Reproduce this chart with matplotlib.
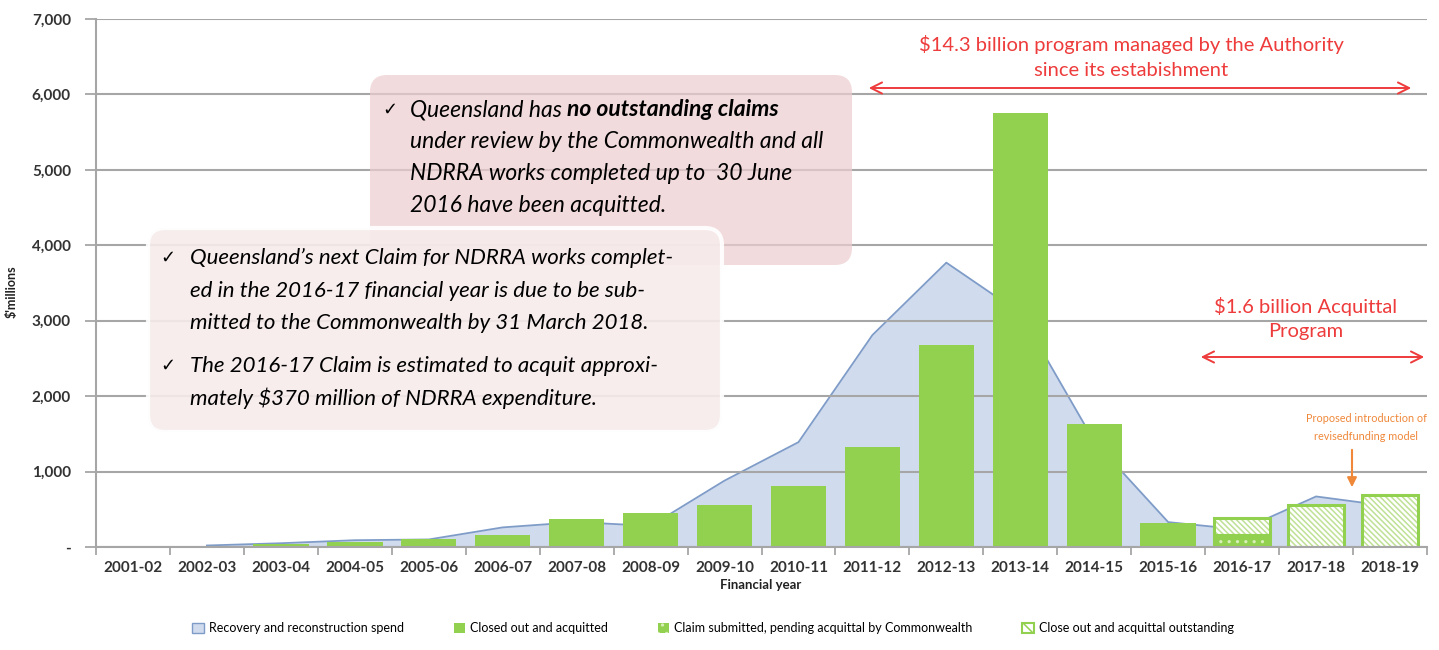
import numpy as np
import matplotlib.pyplot as plt
from matplotlib.patches import FancyBboxPatch, Patch

W, H = 1439, 650

years = ['2001-02', '2002-03', '2003-04', '2004-05', '2005-06', '2006-07',
         '2007-08', '2008-09', '2009-10', '2010-11', '2011-12', '2012-13',
         '2013-14', '2014-15', '2015-16', '2016-17', '2017-18', '2018-19']
# $ millions
spend = [np.nan, 20, 50, 90, 100, 260, 330, 280, 880, 1390, 2810, 3770,
         3100, 1400, 330, 230, 670, 540]
closed = [0, 0, 40, 70, 110, 165, 370, 450, 555, 810, 1330, 2680,
          5750, 1630, 315, 0, 0, 0]
pending = [0, 0, 0, 0, 0, 0, 0, 0, 0, 0, 0, 0, 0, 0, 0, 160, 0, 0]
outstanding = [0, 0, 0, 0, 0, 0, 0, 0, 0, 0, 0, 0, 0, 0, 0, 225, 560, 690]

GREEN = '#92D050'
FILL = '#D0DCEE'
LINE = '#7F9CC8'
GRID = '#A6A6A6'
RED = '#EE3B3B'
ORANGE = '#F0883A'
FONT = ['Lato', 'DejaVu Sans']

plt.rcParams['font.family'] = FONT
plt.rcParams['hatch.linewidth'] = 1.1


def fx(px):
    return px / W


def fy(py):
    return 1 - py / H


fig = plt.figure(figsize=(W / 100, H / 100), dpi=100)
ax = fig.add_axes([fx(96), fy(547), fx(1427) - fx(96), fy(19) - fy(547)])

x = np.arange(len(years))
ax.fill_between(x, spend, color=FILL, lw=0, zorder=0.3)
ax.plot(x, spend, color=LINE, lw=1.3, zorder=0.35)

bw = 0.75
ax.bar(x, closed, bw, color=GREEN, lw=0, zorder=2)

pend = np.array(pending, dtype=float)
outs = np.array(outstanding, dtype=float)
m = pend > 0
ax.bar(x[m], pend[m], bw, color=GREEN, hatch='..', edgecolor='#D8EFB8', lw=0, zorder=2)
m2 = outs > 0
ax.bar(x[m2], outs[m2], bw, bottom=pend[m2], color='white', hatch='\\\\\\\\\\\\',
       edgecolor='#BFE195', lw=0, zorder=2)
ax.bar(x[m2], outs[m2], bw, bottom=pend[m2], fill=False, edgecolor=GREEN, lw=2.2, zorder=2.1)
ax.bar(x[m], pend[m], bw, fill=False, edgecolor=GREEN, lw=2.2, zorder=2.1)

ax.set_xlim(-0.5, len(years) - 0.5)
ax.set_ylim(0, 7000)
ax.set_axisbelow(True)
ax.yaxis.grid(True, color=GRID, lw=1.5)

yt = np.arange(0, 7001, 1000)
ax.set_yticks(yt)
ax.set_yticklabels(['-' if v == 0 else f'{v:,}' for v in yt])
ax.set_xticks(np.arange(-0.5, len(years), 1))
ax.set_xticklabels([])
ax.set_xticks(x, minor=True)
ax.set_xticklabels(years, minor=True)
ax.tick_params(axis='x', which='major', length=6, width=1.3, color=GRID)
ax.tick_params(axis='x', which='minor', length=0, pad=10, labelsize=11, labelcolor='#333333')
ax.tick_params(axis='y', length=8, width=1.3, color=GRID, pad=10, labelsize=11, labelcolor='#333333')
for lab in ax.get_xticklabels(minor=True) + ax.get_yticklabels():
    lab.set_fontweight('bold')

for s in ['top', 'right']:
    ax.spines[s].set_visible(False)
for s in ['left', 'bottom']:
    ax.spines[s].set_color(GRID)
    ax.spines[s].set_linewidth(1.5)

fig.text(fx(12), fy(292), "$'millions", rotation=90, ha='center', va='center',
         fontsize=9, fontweight='bold', color='#222222')
fig.text(fx(761), fy(585), 'Financial year', ha='center', va='center',
         fontsize=9.5, fontweight='bold', color='#222222')


# text boxes
def box(x0, y0, x1, y1, fc, alpha, ec='none', lw=0):
    p = FancyBboxPatch((fx(x0), fy(y1)), fx(x1) - fx(x0), fy(y0) - fy(y1),
                       boxstyle='round,pad=0,rounding_size=0.012',
                       transform=fig.transFigure, fc=fc, ec=ec, lw=lw, alpha=alpha,
                       mutation_aspect=W / H, zorder=5)
    fig.add_artist(p)


box(370, 75, 852, 265, '#EDCDCF', 0.72)
box(148, 228, 722, 432, '#F7EBEB', 0.9, ec='white', lw=3)

tsize = 16.5
fig.text(fx(382), fy(110), '\u2713', fontsize=13, ha='left', va='center', zorder=6,
         family=['DejaVu Sans'])
t1 = fig.text(fx(410), fy(110), 'Queensland has ', fontsize=tsize, style='italic',
              ha='left', va='center', zorder=6)
fig.canvas.draw()
bb = t1.get_window_extent()
fig.text(bb.x1 / W, fy(110), 'no outstanding claims', fontsize=tsize, style='italic',
         fontweight='bold', ha='left', va='center', zorder=6)
box1_lines = ['under review by the Commonwealth and all',
              'NDRRA works completed up to  30 June',
              '2016 have been acquitted.']
for i, s in enumerate(box1_lines):
    fig.text(fx(410), fy(141 + 32 * i), s, fontsize=tsize, style='italic',
             ha='left', va='center', zorder=6)

box2_lines = [('\u2713', 'Queensland\u2019s next Claim for NDRRA works complet-'),
              ('', 'ed in the 2016-17 financial year is due to be sub-'),
              ('', 'mitted to the Commonwealth by 31 March 2018.'),
              ('\u2713', 'The 2016-17 Claim is estimated to acquit approxi-'),
              ('', 'mately $370 million of NDRRA expenditure.')]
ys = [258, 291, 323, 366, 398]
for (mark, s), yy in zip(box2_lines, ys):
    if mark:
        fig.text(fx(160), fy(yy), mark, fontsize=13, ha='left', va='center', zorder=6,
                 family=['DejaVu Sans'])
    fig.text(fx(190), fy(yy), s, fontsize=16, style='italic', ha='left',
             va='center', zorder=6)

# red program annotations
fig.text(fx(1131), fy(45), '$14.3 billion program managed by the Authority',
         color=RED, fontsize=14.5, ha='center', va='center')
fig.text(fx(1131), fy(71), 'since its estabishment', color=RED, fontsize=14.5,
         ha='center', va='center')
ax.annotate('', xy=(fx(866), fy(88)), xytext=(fx(1414), fy(88)),
            xycoords='figure fraction', textcoords='figure fraction',
            arrowprops=dict(arrowstyle='<->', color=RED, lw=1.4, mutation_scale=20))

fig.text(fx(1306), fy(306), '$1.6 billion Acquittal', color=RED, fontsize=14.5,
         ha='center', va='center')
fig.text(fx(1306), fy(332), 'Program', color=RED, fontsize=14.5, ha='center', va='center')
ax.annotate('', xy=(fx(1198), fy(357)), xytext=(fx(1427), fy(357)),
            xycoords='figure fraction', textcoords='figure fraction',
            arrowprops=dict(arrowstyle='<->', color=RED, lw=1.4, mutation_scale=20))

fig.text(fx(1366), fy(418), 'Proposed introduction of', color=ORANGE, fontsize=7.8,
         ha='center', va='center')
fig.text(fx(1366), fy(436), 'revisedfunding model', color=ORANGE, fontsize=7.8,
         ha='center', va='center')
ax.annotate('', xy=(fx(1352), fy(490)), xytext=(fx(1352), fy(447)),
            xycoords='figure fraction', textcoords='figure fraction',
            arrowprops=dict(arrowstyle='-|>', color=ORANGE, lw=1.5, mutation_scale=14))

handles = [Patch(fc=FILL, ec=LINE, lw=1),
           Patch(fc=GREEN, ec=GREEN, lw=0),
           Patch(fc=GREEN, ec='#D8EFB8', hatch='..', lw=0),
           Patch(fc='white', ec=GREEN, hatch='\\\\\\', lw=1.5)]
labels = ['Recovery and reconstruction spend', 'Closed out and acquitted',
          'Claim submitted, pending acquittal by Commonwealth',
          'Close out and acquittal outstanding']
fig.legend(handles, labels, loc='center', bbox_to_anchor=(fx(713), fy(628)), ncol=4,
           frameon=False, fontsize=9, handlelength=0.9, handleheight=0.9,
           handletextpad=0.4, columnspacing=4.0)

fig.savefig('out.png', dpi=100)
